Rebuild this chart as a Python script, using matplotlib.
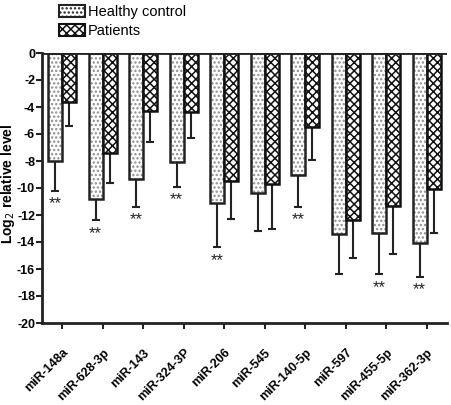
import matplotlib
matplotlib.use("Agg")
import matplotlib.pyplot as plt
import numpy as np
from matplotlib.patches import Patch

plt.rcParams['font.family'] = ['Liberation Sans', 'DejaVu Sans']
plt.rcParams['hatch.linewidth'] = 1.1

categories = ["miR-148a", "miR-628-3p", "miR-143", "miR-324-3P", "miR-206",
              "miR-545", "miR-140-5p", "miR-597", "miR-455-5p", "miR-362-3p"]
healthy = [-8.0, -10.8, -9.3, -8.1, -11.1, -10.4, -9.0, -13.4, -13.3, -14.1]
healthy_err = [2.2, 1.6, 2.1, 1.8, 3.3, 2.8, 2.4, 3.0, 3.1, 2.5]
patients = [-3.6, -7.4, -4.3, -4.4, -9.5, -9.7, -5.5, -12.4, -11.3, -10.1]
patients_err = [1.8, 2.2, 2.3, 1.9, 2.8, 3.35, 2.4, 2.8, 3.6, 3.25]
significant = [True, True, True, True, True, False, True, False, True, True]

fig = plt.figure(figsize=(4.52, 4.05), dpi=100)
ax = fig.add_axes([42/452, 1-323/405, 405/452, 270/405])

x = np.arange(len(categories))
w = 0.35
b1 = ax.bar(x - w/2, healthy, w, facecolor='white', edgecolor='#222222',
            linewidth=1.8, hatch='....', zorder=2)
for p in b1:
    p._hatch_color = (0.55, 0.55, 0.55, 1.0)
b2 = ax.bar(x + w/2, patients, w, facecolor='white', edgecolor='#111111',
            linewidth=1.8, hatch='xxxx', zorder=2)

ax.errorbar(x - w/2, healthy, yerr=[healthy_err, [0]*len(x)], fmt='none',
            ecolor='#222222', elinewidth=1.5, capsize=3, capthick=1.5, zorder=1)
ax.errorbar(x + w/2, patients, yerr=[patients_err, [0]*len(x)], fmt='none',
            ecolor='#222222', elinewidth=1.5, capsize=3, capthick=1.5, zorder=1)

for xi, v, e, s in zip(x, healthy, healthy_err, significant):
    if s:
        ax.text(xi - w/2, v - e - 0.95, "**", ha='center', va='center', fontsize=12,
                color='#222222')

ax.axhline(0, color='#222222', lw=2, zorder=3)
ax.set_xlim(-0.5, len(categories) - 0.5)
ax.set_ylim(-20, 0)
ax.set_yticks(np.arange(-20, 1, 2))
ax.set_yticklabels([str(t) for t in range(-20, 1, 2)], fontsize=9, fontweight='bold')
ax.set_xticks(x)
ax.set_xticklabels(categories, rotation=45, ha='right', rotation_mode='anchor',
                   fontsize=9, fontweight='bold')
ax.tick_params(axis='both', direction='out', length=4, width=1.5, color='#222222')
ax.tick_params(axis='y', pad=1)
ax.tick_params(axis='x', pad=13)
for s in ['top', 'right']:
    ax.spines[s].set_visible(False)
for s in ['left', 'bottom']:
    ax.spines[s].set_linewidth(2)
    ax.spines[s].set_color('#222222')
ax.set_ylabel("Log$_2$ relative level", fontsize=10, fontweight='bold')
ax.yaxis.set_label_coords(-25/405, 0.517)

handles = [Patch(facecolor='white', edgecolor='#222222', hatch='....', linewidth=1.5, label='Healthy control'),
           Patch(facecolor='white', edgecolor='#111111', hatch='xxxx', linewidth=1.5, label='Patients')]
fig.legend(handles=handles, loc='upper left', bbox_to_anchor=(52/452, 1.005), frameon=False,
           fontsize=10.5, handlelength=1.75, handleheight=0.9, labelspacing=0.3,
           handletextpad=0.2, borderaxespad=0.1)

fig.savefig("out.png", dpi=100)
